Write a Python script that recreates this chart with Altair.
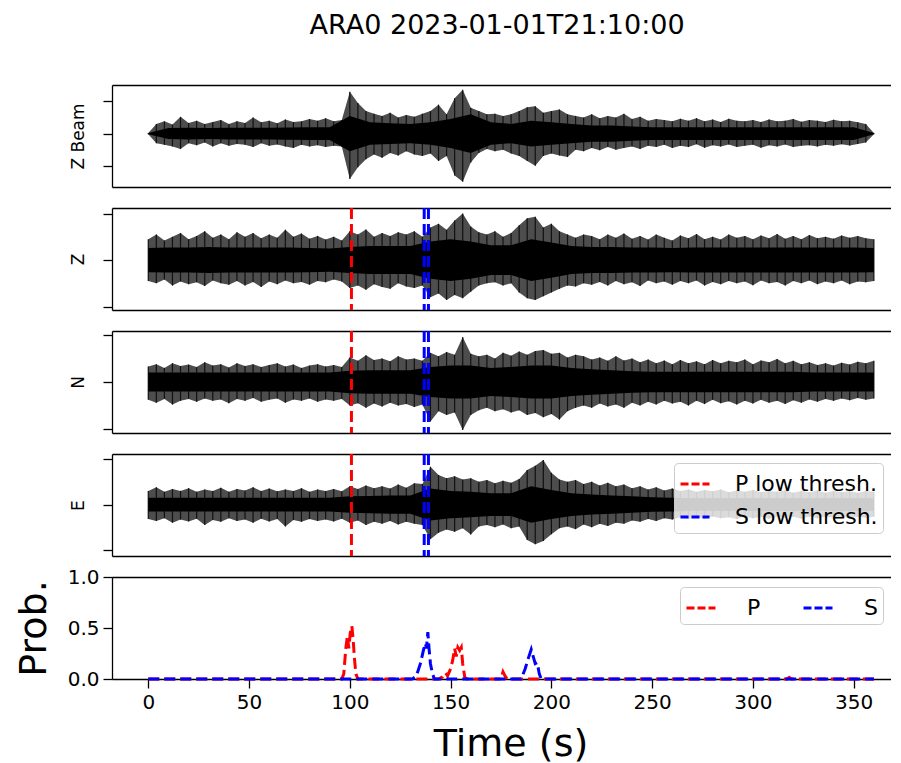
import altair as alt
import pandas as pd

# ---------------- data ----------------
T_ENV = list(range(0, 361, 4))     # envelope sample times (s)
T_CORE = list(range(0, 361, 10))   # dense-core sample times (s)

zbeam_hi = [0.02, 0.30, 0.38, 0.28, 0.52, 0.33, 0.40, 0.30, 0.36, 0.42,
            0.30, 0.38, 0.33, 0.50, 0.35, 0.40, 0.32, 0.44, 0.36, 0.38,
            0.45, 0.40, 0.48, 0.38, 0.42,
            1.30, 0.95, 0.70, 0.62, 0.55, 0.65, 0.50, 0.58, 0.52, 0.62,
            0.70, 0.90, 0.60, 1.10, 1.36, 0.80, 0.70, 0.60, 0.62, 0.55,
            0.60, 0.70, 0.82, 0.85, 0.65, 0.70, 0.75, 0.60, 0.55, 0.50,
            0.60, 0.48, 0.55, 0.50, 0.62, 0.45, 0.52, 0.40, 0.45, 0.42,
            0.38, 0.46, 0.40, 0.48, 0.38, 0.44, 0.36, 0.46, 0.40, 0.38,
            0.42, 0.36, 0.44, 0.38, 0.40, 0.45, 0.37, 0.42, 0.40, 0.36,
            0.43, 0.38, 0.40, 0.35, 0.30, 0.02]
zbeam_lo = [-0.02, -0.30, -0.35, -0.40, -0.48, -0.30, -0.36, -0.28, -0.40, -0.30,
            -0.38, -0.32, -0.35, -0.42, -0.30, -0.38, -0.34, -0.40, -0.45, -0.35,
            -0.40, -0.36, -0.42, -0.38, -0.40,
            -1.41, -1.05, -0.80, -0.65, -0.75, -0.60, -0.68, -0.55, -0.65, -0.70,
            -0.62, -0.85, -0.70, -1.30, -1.50, -0.90, -0.60, -0.48, -0.55, -0.50,
            -0.62, -0.70, -0.85, -1.00, -0.70, -0.62, -0.68, -0.73, -0.50, -0.55,
            -0.45, -0.52, -0.42, -0.50, -0.45, -0.40, -0.48, -0.38, -0.42, -0.35,
            -0.45, -0.38, -0.42, -0.33, -0.44, -0.36, -0.40, -0.34, -0.42, -0.38,
            -0.35, -0.44, -0.36, -0.40, -0.34, -0.42, -0.38, -0.36, -0.40, -0.35,
            -0.38, -0.33, -0.37, -0.32, -0.28, -0.02]
zbeam_core = [0.02, 0.17, 0.18, 0.17, 0.18, 0.18, 0.18, 0.19, 0.20, 0.20,
              0.55, 0.35, 0.32, 0.30, 0.35, 0.45, 0.60, 0.35, 0.30, 0.40,
              0.35, 0.30, 0.25, 0.25, 0.22, 0.20, 0.20, 0.20, 0.20, 0.20,
              0.20, 0.20, 0.20, 0.20, 0.20, 0.20, 0.02]

z_hi = [0.45, 0.55, 0.42, 0.50, 0.58, 0.45, 0.52, 0.62, 0.48, 0.55,
        0.45, 0.60, 0.50, 0.58, 0.47, 0.55, 0.48, 0.65, 0.50, 0.57,
        0.46, 0.52, 0.44, 0.50, 0.42,
        0.62, 0.55, 0.66, 0.50, 0.58, 0.52, 0.60, 0.55, 0.62, 0.50,
        0.70, 0.78, 0.65, 0.85, 1.00, 0.72, 0.60, 0.55, 0.62, 0.50,
        0.58, 0.75, 0.90, 0.93, 0.70, 0.78, 0.62, 0.55, 0.48, 0.55,
        0.52, 0.45, 0.55, 0.48, 0.57, 0.46, 0.52, 0.44, 0.55, 0.48,
        0.42, 0.53, 0.47, 0.56, 0.45, 0.50, 0.44, 0.55, 0.48, 0.52,
        0.45, 0.53, 0.47, 0.56, 0.46, 0.52, 0.45, 0.54, 0.47, 0.50,
        0.46, 0.53, 0.48, 0.52, 0.47, 0.45]
z_lo = [-0.45, -0.50, -0.42, -0.55, -0.46, -0.52, -0.48, -0.56, -0.44, -0.50,
        -0.53, -0.45, -0.55, -0.47, -0.58, -0.46, -0.52, -0.44, -0.50, -0.47,
        -0.53, -0.45, -0.48, -0.42, -0.46,
        -0.60, -0.55, -0.64, -0.52, -0.58, -0.62, -0.50, -0.57, -0.60, -0.55,
        -0.80, -0.72, -0.86, -0.75, -0.82, -0.68, -0.55, -0.50, -0.48, -0.55,
        -0.50, -0.70, -0.82, -0.86, -0.78, -0.70, -0.62, -0.55, -0.57, -0.50,
        -0.53, -0.47, -0.55, -0.45, -0.52, -0.48, -0.56, -0.44, -0.50, -0.46,
        -0.53, -0.45, -0.50, -0.44, -0.55, -0.47, -0.52, -0.45, -0.50, -0.46,
        -0.54, -0.44, -0.50, -0.47, -0.55, -0.45, -0.50, -0.44, -0.52, -0.46,
        -0.50, -0.44, -0.52, -0.46, -0.48, -0.45]
z_core = [0.26, 0.27, 0.27, 0.28, 0.27, 0.27, 0.27, 0.27, 0.26, 0.25,
          0.28, 0.30, 0.30, 0.30, 0.40, 0.45, 0.40, 0.32, 0.32, 0.45,
          0.38, 0.30, 0.28, 0.28, 0.27, 0.27, 0.26, 0.27, 0.27, 0.27,
          0.27, 0.27, 0.27, 0.27, 0.27, 0.27, 0.26]

n_hi = [0.33, 0.38, 0.30, 0.40, 0.34, 0.37, 0.32, 0.42, 0.35, 0.38,
        0.31, 0.40, 0.34, 0.38, 0.32, 0.36, 0.40, 0.33, 0.37, 0.30,
        0.35, 0.38, 0.33, 0.36, 0.32,
        0.52, 0.45, 0.57, 0.47, 0.50, 0.44, 0.55, 0.48, 0.50, 0.45,
        0.62, 0.55, 0.64, 0.58, 0.96, 0.60, 0.55, 0.58, 0.50, 0.62,
        0.56, 0.65, 0.58, 0.66, 0.68, 0.60, 0.62, 0.52, 0.58, 0.55,
        0.48, 0.52, 0.45, 0.55, 0.46, 0.50, 0.42, 0.48, 0.40, 0.46,
        0.38, 0.47, 0.40, 0.44, 0.38, 0.47, 0.40, 0.45, 0.42, 0.48,
        0.38, 0.46, 0.42, 0.49, 0.40, 0.45, 0.38, 0.42, 0.36, 0.40,
        0.35, 0.41, 0.37, 0.43, 0.40, 0.45]
n_lo = [-0.38, -0.44, -0.36, -0.48, -0.40, -0.36, -0.42, -0.35, -0.40, -0.37,
        -0.45, -0.36, -0.40, -0.34, -0.42, -0.38, -0.35, -0.44, -0.37, -0.40,
        -0.35, -0.42, -0.37, -0.40, -0.36,
        -0.50, -0.45, -0.55, -0.46, -0.52, -0.44, -0.50, -0.47, -0.53, -0.48,
        -0.84, -0.62, -0.70, -0.65, -1.02, -0.70, -0.60, -0.55, -0.62, -0.58,
        -0.65, -0.60, -0.70, -0.66, -0.75, -0.68, -0.80, -0.62, -0.55, -0.50,
        -0.55, -0.46, -0.52, -0.48, -0.55, -0.44, -0.50, -0.42, -0.48, -0.40,
        -0.46, -0.42, -0.50, -0.40, -0.47, -0.38, -0.45, -0.41, -0.48, -0.40,
        -0.46, -0.38, -0.44, -0.40, -0.47, -0.39, -0.44, -0.37, -0.42, -0.36,
        -0.40, -0.35, -0.39, -0.34, -0.38, -0.35]
n_core = [0.20, 0.20, 0.20, 0.20, 0.20, 0.20, 0.20, 0.20, 0.20, 0.20,
          0.24, 0.25, 0.25, 0.25, 0.32, 0.35, 0.35, 0.30, 0.32, 0.35,
          0.35, 0.30, 0.27, 0.25, 0.23, 0.22, 0.22, 0.22, 0.22, 0.22,
          0.22, 0.22, 0.22, 0.20, 0.20, 0.20, 0.20]

e_hi = [0.30, 0.38, 0.28, 0.34, 0.30, 0.36, 0.28, 0.33, 0.30, 0.37,
        0.28, 0.34, 0.31, 0.38, 0.30, 0.35, 0.29, 0.33, 0.30, 0.36,
        0.28, 0.33, 0.30, 0.34, 0.29,
        0.40, 0.34, 0.42, 0.36, 0.40, 0.35, 0.44, 0.37, 0.47, 0.45,
        0.83, 0.65, 0.58, 0.62, 0.55, 0.58, 0.50, 0.54, 0.47, 0.52,
        0.48, 0.56, 0.76, 0.85, 0.98, 0.70, 0.55, 0.50, 0.54, 0.45,
        0.50, 0.42, 0.48, 0.40, 0.44, 0.36, 0.40, 0.33, 0.38, 0.31,
        0.35, 0.30, 0.33, 0.28, 0.32, 0.29, 0.33, 0.27, 0.31, 0.28,
        0.32, 0.27, 0.30, 0.28, 0.31, 0.26, 0.30, 0.27, 0.31, 0.26,
        0.30, 0.27, 0.29, 0.26, 0.30, 0.28]
e_lo = [-0.32, -0.36, -0.30, -0.40, -0.33, -0.37, -0.31, -0.45, -0.34, -0.38,
        -0.30, -0.36, -0.33, -0.40, -0.31, -0.37, -0.32, -0.48, -0.34, -0.38,
        -0.32, -0.36, -0.33, -0.37, -0.31,
        -0.40, -0.35, -0.45, -0.38, -0.42, -0.36, -0.44, -0.38, -0.42, -0.45,
        -0.76, -0.62, -0.55, -0.60, -0.52, -0.66, -0.48, -0.45, -0.50, -0.44,
        -0.52, -0.48, -0.78, -0.87, -0.80, -0.65, -0.52, -0.48, -0.54, -0.44,
        -0.50, -0.42, -0.47, -0.40, -0.42, -0.35, -0.38, -0.32, -0.36, -0.30,
        -0.33, -0.28, -0.32, -0.27, -0.31, -0.26, -0.30, -0.28, -0.32, -0.26,
        -0.30, -0.27, -0.31, -0.26, -0.29, -0.27, -0.31, -0.26, -0.30, -0.27,
        -0.29, -0.26, -0.30, -0.27, -0.29, -0.27]
e_core = [0.15, 0.15, 0.15, 0.15, 0.15, 0.15, 0.15, 0.15, 0.15, 0.15,
          0.18, 0.19, 0.20, 0.20, 0.35, 0.30, 0.28, 0.25, 0.25, 0.40,
          0.32, 0.25, 0.22, 0.20, 0.18, 0.16, 0.15, 0.14, 0.14, 0.14,
          0.14, 0.14, 0.14, 0.14, 0.14, 0.14, 0.14]

# pick lines (s)
PICK_T = [100.8, 136.9, 139.0]
PICK_LABEL = ["P low thresh.", "S low thresh.", "S low thresh."]
PICK_NAMES = ["P low thresh.", "S low thresh."]

# phase probabilities
P_T = [0, 96, 97, 98, 98.8, 99.5, 100.2, 101, 101.6, 102.3, 103, 104,
       144, 146, 147.5, 148.5, 150, 151, 152, 152.8, 153.6, 154.5, 155.3, 156, 157, 158,
       175, 176, 177, 178, 317, 318, 319, 360]
P_PROB = [0, 0, 0.05, 0.30, 0.42, 0.30, 0.45, 0.52, 0.40, 0.20, 0.05, 0,
          0, 0.02, 0.06, 0.03, 0.10, 0.18, 0.30, 0.22, 0.31, 0.28, 0.31, 0.15, 0.02, 0,
          0, 0.07, 0.03, 0, 0, 0.015, 0, 0]
S_T = [0, 131, 133, 135, 136.5, 137.5, 138, 138.7, 139.3, 140, 141, 142,
       185, 187, 188.5, 190, 191, 192, 193, 194, 195, 360]
S_PROB = [0, 0, 0.03, 0.15, 0.28, 0.35, 0.30, 0.46, 0.30, 0.15, 0.05, 0,
          0, 0.10, 0.20, 0.29, 0.22, 0.15, 0.16, 0.05, 0, 0]

X_TICKS = [0, 50, 100, 150, 200, 250, 300, 350]
WAVE_TICKS = [-1, 0, 1]
TITLE = "ARA0 2023-01-01T21:10:00"

# ---------------- chart ----------------
W, H = 779, 102
FONT = "DejaVu Sans"
FRAME = dict(domain=True, domainColor="black", domainWidth=1.3, grid=False)
xscale = alt.Scale(domain=[-18, 368.5], nice=False, zero=False)
pick_scale = alt.Scale(domain=PICK_NAMES, range=["#ff0000", "#0000ff"])
picks_df = pd.DataFrame({"t": PICK_T, "label": PICK_LABEL})

x_bottom_plain = alt.Axis(orient="bottom", labels=False, ticks=False, title=None, **FRAME)
x_top_plain = alt.Axis(orient="top", labels=False, ticks=False, title=None, **FRAME)


def wave(name, hi, lo, core, ydom, picks=False, legend=None):
    env = pd.DataFrame({"t": T_ENV, "hi": hi, "lo": lo})
    cor = pd.DataFrame({"t": T_CORE, "up": core, "dn": [-c for c in core]})
    ysc = alt.Scale(domain=ydom, nice=False, zero=False)
    # ticks and title only: tick labels are blank strings
    yax = alt.Axis(values=WAVE_TICKS, labels=True, labelExpr="''", labelPadding=0,
                   labelFontSize=12, tickSize=9, tickWidth=1.3,
                   title=name, titleFontSize=17, titleFontWeight="normal",
                   titlePadding=15, **FRAME)

    outer = alt.Chart(env).mark_area(color="#4d4d4d", clip=True).encode(
        x=alt.X("t:Q", scale=xscale, axis=x_bottom_plain),
        y=alt.Y("lo:Q", scale=ysc, axis=yax),
        y2="hi:Q")
    spikes = alt.Chart(env).mark_rule(color="#111111", strokeWidth=1.2, clip=True).encode(
        x=alt.X("t:Q", scale=xscale, axis=None),
        y=alt.Y("lo:Q", scale=ysc, axis=yax),
        y2="hi:Q")
    inner = alt.Chart(cor).mark_area(color="black", clip=True).encode(
        x=alt.X("t:Q", scale=xscale, axis=x_top_plain),
        y=alt.Y("dn:Q", scale=ysc, axis=yax),
        y2="up:Q")
    layers = [outer, spikes, inner]
    if picks:
        rules = alt.Chart(picks_df).mark_rule(strokeDash=[11, 5], strokeWidth=3).encode(
            x=alt.X("t:Q", scale=xscale, axis=None),
            color=alt.Color("label:N", scale=pick_scale, legend=legend))
        layers.append(rules)
    return alt.layer(*layers).properties(width=W, height=H)


LEGEND_STYLE = dict(
    title=None, orient="none", symbolType="stroke", symbolDash=[8, 3],
    symbolStrokeWidth=3, symbolSize=841, labelFontSize=22, labelFont=FONT,
    labelColor="black", padding=5, fillColor="rgba(255,255,255,0.8)",
    strokeColor="#cccccc", cornerRadius=4)

pick_legend = alt.Legend(legendX=562, legendY=9, direction="vertical",
                         labelOffset=24, rowPadding=6, **LEGEND_STYLE)

p1 = wave("Z Beam", zbeam_hi, zbeam_lo, zbeam_core, [-1.66, 1.51])
p2 = wave("Z", z_hi, z_lo, z_core, [-1.075, 1.12], picks=True, legend=None)
p3 = wave("N", n_hi, n_lo, n_core, [-1.085, 1.085], picks=True, legend=None)
p4 = wave("E", e_hi, e_lo, e_core, [-1.13, 1.11], picks=True, legend=pick_legend)

phase_scale = alt.Scale(domain=["P", "S"], range=["#ff0000", "#0000ff"])
phase_legend = alt.Legend(legendX=568, legendY=10, direction="horizontal", columns=2,
                          columnPadding=36, labelOffset=30, **LEGEND_STYLE)
prob_y = alt.Y("prob:Q", scale=alt.Scale(domain=[0, 1], nice=False, zero=False),
               axis=alt.Axis(values=[0, 0.5, 1], format=".1f", title="Prob.", tickSize=9,
                             tickWidth=1.3, labelFontSize=20, labelPadding=4,
                             titleFontSize=38, titleFontWeight="normal", titlePadding=14,
                             **FRAME))
p_line = alt.Chart(pd.DataFrame({"t": P_T, "prob": P_PROB, "phase": "P"})).mark_line(
    strokeDash=[11, 5], strokeWidth=3).encode(
    x=alt.X("t:Q", scale=xscale,
            axis=alt.Axis(orient="bottom", values=X_TICKS, title="Time (s)", tickSize=9,
                          tickWidth=1.3, labelFontSize=20, labelPadding=4, titleFontSize=38,
                          titleFontWeight="normal", titlePadding=13, titleX=398.5, **FRAME)),
    y=prob_y,
    color=alt.Color("phase:N", scale=phase_scale, legend=phase_legend))
s_line = alt.Chart(pd.DataFrame({"t": S_T, "prob": S_PROB, "phase": "S"})).mark_line(
    strokeDash=[11, 5], strokeWidth=3).encode(
    x=alt.X("t:Q", scale=xscale, axis=x_top_plain),
    y=prob_y,
    color=alt.Color("phase:N", scale=phase_scale, legend=phase_legend))
p5 = alt.layer(p_line, s_line).properties(width=W, height=H)

chart = alt.vconcat(p1, p2, p3, p4, p5, spacing=21, bounds="flush").resolve_scale(
    color="independent"
).properties(
    title=alt.TitleParams(TITLE, fontSize=27, fontWeight="normal", font=FONT,
                          color="black", anchor="middle", offset=45, dx=44),
    padding={"left": 7, "top": 4, "right": 0, "bottom": 0},
).configure(font=FONT).configure_view(
    stroke=None
).configure_axis(
    labelColor="black", titleColor="black", tickColor="black",
    labelFont=FONT, titleFont=FONT
)

chart.save("out.html", embed_options={"renderer": "svg", "actions": False})
